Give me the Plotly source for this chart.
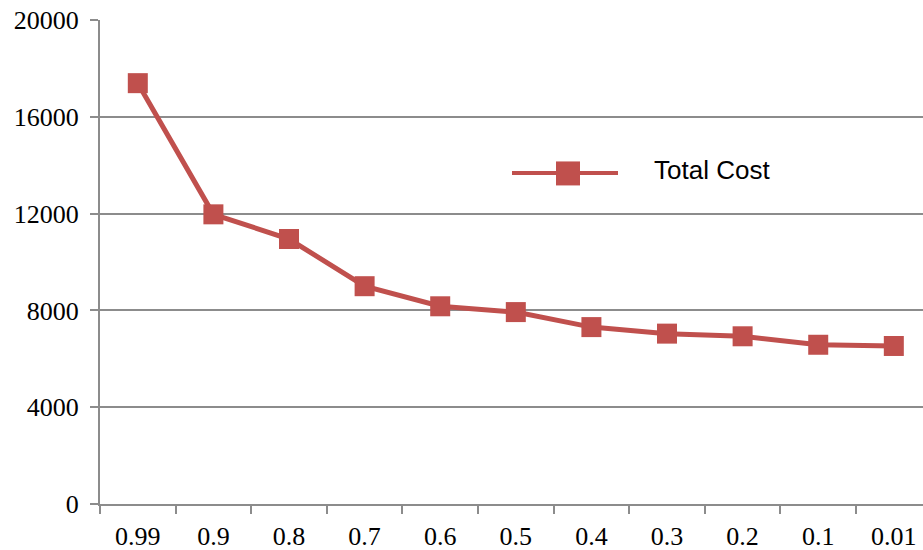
import plotly.graph_objects as go

categories = ["0.99", "0.9", "0.8", "0.7", "0.6", "0.5", "0.4", "0.3", "0.2", "0.1", "0.01"]
total_cost = [17390, 11970, 10950, 9000, 8170, 7930, 7310, 7040, 6930, 6580, 6530]
y_ticks = [0, 4000, 8000, 12000, 16000, 20000]
series_name = "Total Cost"

RED = "#C0504D"
GRID = "#8C8C8C"

fig = go.Figure()
fig.add_trace(go.Scatter(
    x=categories, y=total_cost, mode="lines+markers", name=series_name,
    line=dict(color=RED, width=5),
    marker=dict(symbol="square", size=20, color=RED),
    showlegend=False,
))

# Legend drawn to resemble the Excel legend (long line sample)
fig.add_shape(type="line", xref="paper", yref="paper",
              x0=(512 - 100) / 823, x1=(618 - 100) / 823,
              y0=(503.7 - 172.5) / 484.2, y1=(503.7 - 172.5) / 484.2,
              line=dict(color=RED, width=4))
fig.add_shape(type="rect", xref="paper", yref="paper",
              x0=(556 - 100) / 823, x1=(580 - 100) / 823,
              y0=(503.7 - 185) / 484.2, y1=(503.7 - 161) / 484.2,
              line=dict(width=0), fillcolor=RED)
fig.add_annotation(text=series_name, xref="paper", yref="paper",
                   x=(652 - 100) / 823, y=(503.7 - 170) / 484.2,
                   xanchor="left", yanchor="middle", showarrow=False,
                   font=dict(family="Liberation Sans, Arial", size=26, color="#000"))

fig.update_layout(
    width=923, height=550,
    margin=dict(l=100, r=0, t=20, b=46),
    paper_bgcolor="white", plot_bgcolor="white",
    font=dict(family="Liberation Serif, Times New Roman, serif", size=26, color="#000"),
)
fig.update_xaxes(
    type="category", range=[-0.5, 10.386],
    showline=True, linecolor=GRID, linewidth=2,
    ticks="outside", tickson="boundaries", ticklen=8, tickcolor=GRID, tickwidth=2,
    showgrid=False, tickfont=dict(size=26), ticklabelstandoff=8,
)
fig.update_yaxes(
    range=[0, 20000], tickvals=y_ticks, ticktext=[str(v) for v in y_ticks],
    showline=True, linecolor=GRID, linewidth=2,
    ticks="outside", ticklen=8, tickcolor=GRID, tickwidth=2,
    showgrid=True, gridcolor=GRID, gridwidth=2, zeroline=False,
    tickfont=dict(size=26), ticklabelstandoff=6,
)

fig.write_html(
    "out.html",
    config={"displayModeBar": False},
    post_script="document.body.style.margin='0';document.body.style.overflow='hidden';",
)
